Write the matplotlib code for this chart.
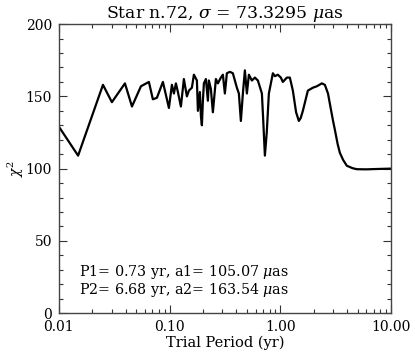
import matplotlib
matplotlib.use("Agg")
import matplotlib.pyplot as plt
from matplotlib.ticker import FixedLocator, MultipleLocator, LogLocator, NullFormatter

plt.rcParams["font.family"] = ["DejaVu Serif"]
plt.rcParams["mathtext.fontset"] = "dejavuserif"

# trial period (yr) and chi^2
period = [0.0100, 0.0149, 0.0250, 0.0301, 0.0395, 0.0457, 0.0551, 0.0650, 0.0706,
          0.0768, 0.0870, 0.0986, 0.1049, 0.1094, 0.1140, 0.1189, 0.1265, 0.1346,
          0.1433, 0.1494, 0.1590, 0.1658, 0.1765, 0.1802, 0.1878, 0.1920, 0.1958,
          0.1999, 0.2041, 0.2128, 0.2218, 0.2265, 0.2361, 0.2461, 0.2620, 0.2731,
          0.2906, 0.3030, 0.3158, 0.3293, 0.3504, 0.3730, 0.4054, 0.4227, 0.4406,
          0.4594, 0.4789, 0.4993, 0.5205, 0.5540, 0.5897, 0.6276, 0.6823, 0.7000,
          0.7262, 0.7550, 0.7889, 0.8574, 0.8939, 0.9513, 1.0125, 1.0556, 1.1471,
          1.2210, 1.2996, 1.3900, 1.4723, 1.5300, 1.6003, 1.7759, 1.9704, 2.1414,
          2.3759, 2.5289, 2.7000, 2.8058, 3.0000, 3.1131, 3.3000, 3.4542, 3.7000,
          3.9954, 4.5000, 4.9200, 6.0000, 7.1550, 10.0000]
chi2 = [129, 109, 158, 146, 159, 143, 157, 160, 148,
        149, 160, 142, 158, 152, 159, 153, 143, 162,
        150, 154, 156, 165, 161, 140, 153, 136, 130,
        147, 159, 162, 147, 161, 155, 139, 162, 159,
        163, 165, 152, 166, 167, 166, 156, 152, 133,
        152, 168, 152, 165, 161, 163, 161, 152, 135,
        109, 125, 152, 166, 164, 165, 163, 160, 163,
        163, 154, 139, 133, 135, 140, 154, 156, 157,
        159, 158, 152, 145, 133, 127, 117, 111, 106,
        102, 100.3, 99.6, 99.5, 99.7, 100]

ytick_vals = [0, 50, 100, 150, 200]
xtick_vals = [0.01, 0.1, 1.0, 10.0]
xtick_labels = ["0.01", "0.10", "1.00", "10.00"]

fig = plt.figure(figsize=(4.15, 3.55), dpi=100)
ax = fig.add_axes([0.142, 0.118, 0.800, 0.814])
ax.plot(period, chi2, color="black", lw=1.6)

ax.set_xscale("log")
ax.set_xlim(0.01, 10)
ax.set_ylim(0, 200)
ax.xaxis.set_major_locator(FixedLocator(xtick_vals))
ax.set_xticklabels(xtick_labels)
ax.xaxis.set_minor_locator(LogLocator(base=10, subs=range(2, 10)))
ax.xaxis.set_minor_formatter(NullFormatter())
ax.yaxis.set_major_locator(FixedLocator(ytick_vals))
ax.yaxis.set_minor_locator(MultipleLocator(10))

ax.tick_params(which="both", direction="in", top=True, right=True,
               labelsize=10, colors="#333333", labelcolor="black")
ax.tick_params(which="major", length=6, width=0.8, pad=5)
ax.tick_params(which="minor", length=3, width=0.8)
for s in ax.spines.values():
    s.set_color("#444444")
    s.set_linewidth(1.0)

ax.set_xlabel("Trial Period (yr)", fontsize=10.5, labelpad=1)
ax.set_ylabel(r"$\chi^2$", fontsize=10)
ax.yaxis.set_label_coords(-0.098, 0.5)
ax.set_title(r"Star n.72, $\sigma$ = 73.3295 $\mu$as", fontsize=12.4, pad=3)

ax.text(0.0152, 13, "P1= 0.73 yr, a1= 105.07 $\\mu$as\nP2= 6.68 yr, a2= 163.54 $\\mu$as",
        fontsize=10.3, linespacing=1.0)

fig.savefig("out.png", dpi=100)
